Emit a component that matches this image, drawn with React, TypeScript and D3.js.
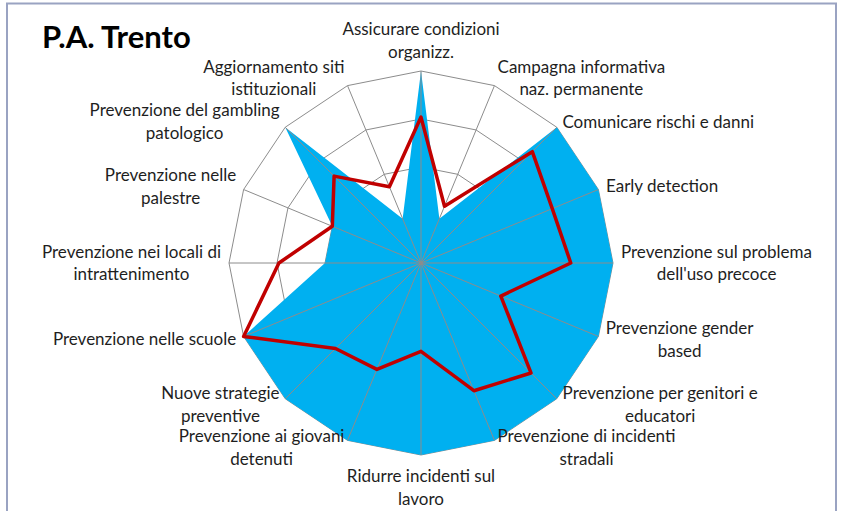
import React from "react";
import * as d3 from "d3";

const categories = [
  "Assicurare condizioni\norganizz.",
  "Campagna informativa\nnaz. permanente",
  "Comunicare rischi e danni",
  "Early detection",
  "Prevenzione sul problema\ndell'uso precoce",
  "Prevenzione gender\nbased",
  "Prevenzione per genitori e\neducatori",
  "Prevenzione di incidenti\nstradali",
  "Ridurre incidenti sul\nlavoro",
  "Prevenzione ai giovani\ndetenuti",
  "Nuove strategie\npreventive",
  "Prevenzione nelle scuole",
  "Prevenzione nei locali di\nintrattenimento",
  "Prevenzione nelle\npalestre",
  "Prevenzione del gambling\npatologico",
  "Aggiornamento siti\nistituzionali",
];

// filled series (P.A. Trento)
const trento = [100, 25, 100, 100, 100, 100, 100, 100, 100, 100, 100, 100, 50, 50, 100, 25];
// red line series
const media = [76, 32, 82, 74, 78, 45, 81, 72, 46, 60, 63, 100, 74, 50, 64, 43];

const ringTicks = [25, 50, 75, 100];

const W = 843;
const H = 511;
const cx = 421;
const cy = 263;
const R = 192;
const FONT = "Lato, sans-serif";
const FS = 17;
const LH = 22.5;

let ctx: CanvasRenderingContext2D | null = null;
function textWidth(s: string) {
  if (!ctx) ctx = document.createElement("canvas").getContext("2d");
  if (!ctx) return s.length * 8;
  ctx.font = `${FS}px Lato`;
  return ctx.measureText(s).width;
}

export default function App() {
  const n = categories.length;
  const r = d3.scaleLinear().domain([0, 100]).range([0, R]);
  const angle = (i: number) => (i * 2 * Math.PI) / n;

  const radial = d3
    .lineRadial<number>()
    .angle((_, i) => angle(i))
    .radius((d) => r(d))
    .curve(d3.curveLinearClosed);

  const ring = (v: number) => radial(categories.map(() => v)) as string;

  const labels = categories.map((c, i) => {
    const a = angle(i);
    const sx = Math.sin(a);
    const cy0 = -Math.cos(a);
    const lines = c.split("\n");
    const bw = Math.max(...lines.map(textWidth));
    const bh = lines.length * LH;
    const pad = 8;
    const px = cx + (R + pad) * sx;
    const py = cy + (R + pad) * cy0;
    let midX = px;
    if (sx > 0.01) midX = px + bw / 2;
    else if (sx < -0.01) midX = px - bw / 2;
    let top = py - bh / 2;
    if (Math.abs(sx) < 0.01) top = cy0 < 0 ? py - bh : py + 2;
    return { lines, midX, top, i };
  });

  return (
    <svg
      width={W}
      height={H}
      style={{ position: "absolute", left: 0, top: 0, background: "#fff" }}
    >
      <rect x={7} y={3.5} width={829} height={520} fill="#fff" stroke="#9aa3c2" strokeWidth={2} />

      <g transform={`translate(${cx},${cy})`}>
        {ringTicks.map((t) => (
          <path key={t} d={ring(t)} fill="none" stroke="#8c8c8c" strokeWidth={1} />
        ))}
        <path d={radial(trento) as string} fill="#00b0f0" stroke="none" />
        {categories.map((_, i) => {
          const a = angle(i);
          return (
            <line
              key={i}
              x1={0}
              y1={0}
              x2={r(100) * Math.sin(a)}
              y2={-r(100) * Math.cos(a)}
              stroke="#8c8c8c"
              strokeWidth={1}
            />
          );
        })}
        <path
          d={radial(media) as string}
          fill="none"
          stroke="#c00000"
          strokeWidth={3.5}
          strokeLinejoin="round"
        />
      </g>

      <g fontFamily={FONT} fontSize={FS} fill="#1e1e1e" textAnchor="middle">
        {labels.map((l) =>
          l.lines.map((s, j) => (
            <text key={`${l.i}-${j}`} x={l.midX} y={l.top + LH * j + LH / 2} dy="0.35em">
              {s}
            </text>
          ))
        )}
      </g>

      <text x={42} y={48} fontFamily={FONT} fontWeight="bold" fontSize={31} fill="#000">
        P.A. Trento
      </text>
    </svg>
  );
}
